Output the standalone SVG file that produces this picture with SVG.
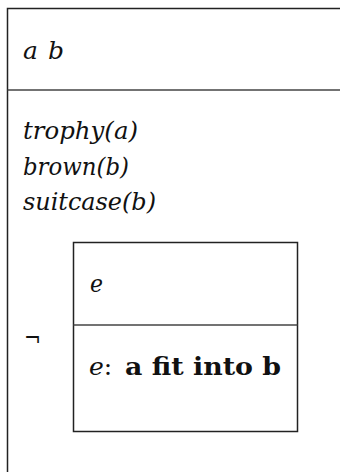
<svg xmlns="http://www.w3.org/2000/svg" width="340" height="472" viewBox="0 0 340 472">
<style>
.box{fill:none;stroke:#222;stroke-width:1.5}
.line{stroke:#444;stroke-width:1.5}
.m{font-family:"DejaVu Serif",serif;font-style:italic;font-size:25px;fill:#111}
.r{font-family:"DejaVu Serif",serif;font-size:25px;fill:#111}
.b{font-family:"DejaVu Serif",serif;font-weight:bold;font-size:24px;fill:#111}
</style>
<rect width="340" height="472" fill="#fff"/>
<g id="outer">
<rect class="box" x="7.5" y="8.5" width="400" height="500"/>
<line class="line" x1="7.5" y1="90" x2="340" y2="90"/>
<text class="m" y="59"><tspan x="23">a</tspan><tspan x="40"> b</tspan></text>
<text class="m" x="23" y="139" textLength="115" lengthAdjust="spacingAndGlyphs">trophy(a)</text>
<text class="m" x="23" y="175" textLength="106" lengthAdjust="spacingAndGlyphs">brown(b)</text>
<text class="m" x="23" y="210" textLength="133" lengthAdjust="spacingAndGlyphs">suitcase(b)</text>
<text class="r" x="24" y="346" textLength="17" lengthAdjust="spacingAndGlyphs">¬</text>
</g>
<g id="inner">
<rect class="box" x="73.5" y="242.5" width="224" height="189"/>
<line class="line" x1="73.5" y1="325" x2="297.5" y2="325"/>
<text class="m" x="90" y="292" textLength="13" lengthAdjust="spacingAndGlyphs">e</text>
<text x="89" y="375"><tspan class="m">e</tspan><tspan class="r">:</tspan></text>
<text class="b" x="125" y="375" textLength="156" lengthAdjust="spacingAndGlyphs">a fit into b</text>
</g>
</svg>
